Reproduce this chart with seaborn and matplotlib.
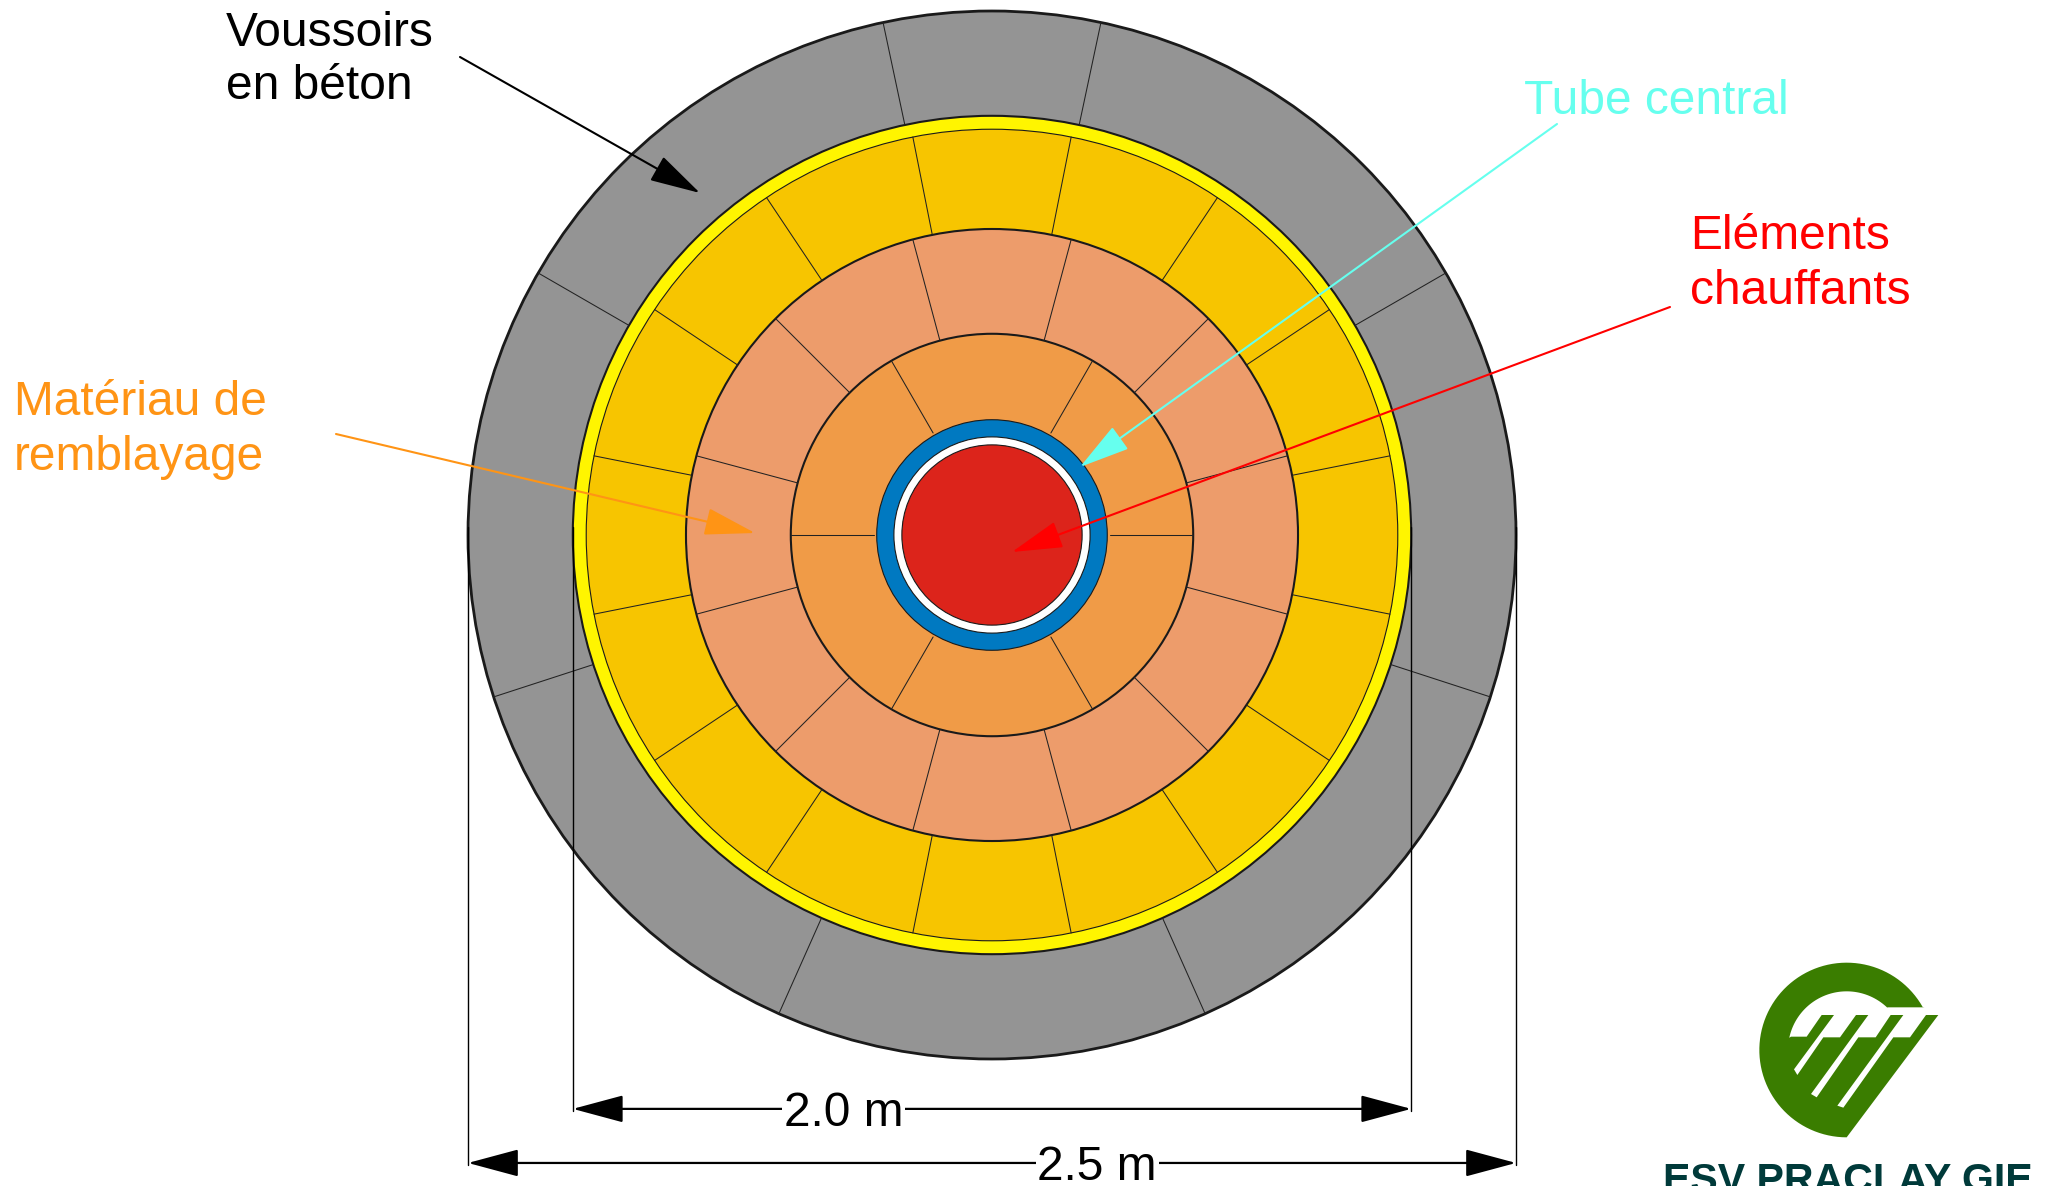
import numpy as np
import pandas as pd
import matplotlib
matplotlib.use("Agg")
import matplotlib.pyplot as plt
from matplotlib.patches import Circle, Polygon
import seaborn as sns

# radii in metres, outermost first
ring_radii = [1.25, 1.0, 0.968, 0.73, 0.48, 0.275, 0.234, 0.215]
ring_colors = ["#949494", "#FFF500", "#F7C500", "#ED9C6B", "#F09B47", "#0079C1", "#FFFFFF", "#DC241B"]
ring_lw = [2.0, 1.5, 0.8, 1.5, 1.5, 0.8, 0.8, 0.8]

# joints of each ring: inner radius, outer radius, angles in degrees
grey_joints = [30, 78, 102, 150, 198, 246, 294, 342]
gold_joints = [11.25, 33.75, 56.25, 78.75, 101.25, 123.75, 146.25, 168.75,
               191.25, 213.75, 236.25, 258.75, 281.25, 303.75, 326.25, 348.75]
salmon_joints = [15, 45, 75, 105, 135, 165, 195, 225, 255, 285, 315, 345]
orange_joints = [0, 60, 120, 180, 240, 300]
joint_sets = [(1.0, 1.25, grey_joints), (0.73, 0.968, gold_joints),
              (0.48, 0.73, salmon_joints), (0.281, 0.48, orange_joints)]

# dimension lines
dim_half_widths = [1.0, 1.25]
dim_bottoms = [-1.374, -1.503]
dim_labels = ["2.0 m", "2.5 m"]
dim_label_x = [-0.354, 0.251]

# labels: text, colour, left edge and baseline in pixels of the picture
label_texts = ["Voussoirs", "en béton", "Tube central", "Eléments", "chauffants", "Matériau de", "remblayage"]
label_colors = ["black", "black", "#66FFEE", "#FF0000", "#FF0000", "#FF9415", "#FF9415"]
label_x = [226, 226, 1524, 1690, 1690, 14, 14]
label_y = [46, 99, 114, 249, 304, 415, 470]

# pointers: start and tip in pixels of the picture
arrow_colors = ["black", "#66FFEE", "#FF0000", "#FF9415"]
arrow_start = [(460, 57), (1557, 124), (1670, 307), (336, 434)]
arrow_tip = [(700, 193), (1080, 467), (1012, 552), (755, 533)]

PX_PER_M = 419.2
CX, CY = 992, 535
W, H = 2056, 1186


def m(x, y):
    return (x - CX) / PX_PER_M, (CY - y) / PX_PER_M


def logo(x, y):
    return m(1650 + x / 3, 930 + y / 3)


def arc(radius, start, stop, n=80):
    t = np.radians(np.linspace(start, stop, n))
    return [(590 + radius * np.cos(a), 360 - radius * np.sin(a)) for a in t]


def segments(rows):
    df = pd.DataFrame(rows, columns=["seg", "x", "y"])
    return df


sns.set_theme(style="white")
plt.rcParams["font.family"] = ["Liberation Sans", "DejaVu Sans"]
palette = sns.color_palette(ring_colors)

fig = plt.figure(figsize=(W / 100, H / 100), dpi=100)
ax = fig.add_axes([0, 0, 1, 1])

for r, c, lw in zip(ring_radii, palette, ring_lw):
    ax.add_patch(Circle((0, 0), r, facecolor=c, edgecolor="#1a1a1a", lw=lw))

rows = []
n = 0
for r0, r1, angles in joint_sets:
    for a in angles:
        t = np.radians(a)
        rows.append((n, r0 * np.cos(t), r0 * np.sin(t)))
        rows.append((n, r1 * np.cos(t), r1 * np.sin(t)))
        n += 1
sns.lineplot(data=segments(rows), x="x", y="y", units="seg", estimator=None, sort=False,
             color="#222222", lw=0.75, legend=False, ax=ax)

# extension lines of the two dimensions
rows = []
n = 0
for w, b in zip(dim_half_widths, dim_bottoms):
    for side in (-1, 1):
        rows.append((n, side * w, 0.02))
        rows.append((n, side * w, b))
        n += 1
sns.lineplot(data=segments(rows), x="x", y="y", units="seg", estimator=None, sort=False,
             color="black", lw=1.0, legend=False, ax=ax)

head = "head_length=32,head_width=8.6"
for w, b, txt, tx in zip(dim_half_widths, dim_bottoms, dim_labels, dim_label_x):
    ya = b + 0.005
    ax.annotate("", xy=(w, ya), xytext=(-w, ya),
                arrowprops=dict(arrowstyle="<|-|>," + head, color="black", lw=1.6,
                                shrinkA=0, shrinkB=0, mutation_scale=1))
    ax.text(tx, ya - 0.012, txt, fontsize=34.5, ha="center", va="center", color="black",
            bbox=dict(facecolor="white", edgecolor="none", pad=1.5))

for col, s, e in zip(arrow_colors, arrow_start, arrow_tip):
    ax.annotate("", xy=m(*e), xytext=m(*s),
                arrowprops=dict(arrowstyle="-|>," + head, color=col, lw=1.5,
                                shrinkA=0, shrinkB=0, mutation_scale=1))

for txt, col, x, y in zip(label_texts, label_colors, label_x, label_y):
    px, py = m(x, y)
    ax.text(px, py, txt, color=col, fontsize=34.5, ha="left", va="baseline")

# logo
green = arc(262, 29.4, 270) + [(865, 255)]
ax.add_patch(Polygon([logo(*p) for p in green], closed=True, facecolor="#3A7D00", edgecolor="none"))
cut = [(423, 320), (470, 320), (515, 255), (552, 255), (432, 418), (442, 435),
       (520, 322), (570, 322), (618, 255), (655, 255), (483, 492), (500, 502),
       (625, 322), (677, 322), (722, 255), (760, 255), (562, 527), (580, 533),
       (730, 322), (780, 322), (828, 255), (875, 255), (875, 232), (712, 232)] + arc(176, 46, 168)
ax.add_patch(Polygon([logo(*p) for p in cut], closed=True, facecolor="white", edgecolor="none"))
lx, ly = m(1663, 1192)
ax.text(lx, ly, "ESV PRACLAY GIE", color="#003A3A", fontsize=29.6, fontweight="bold",
        ha="left", va="baseline")

ax.set_xlim(-CX / PX_PER_M, (W - CX) / PX_PER_M)
ax.set_ylim((CY - H) / PX_PER_M, CY / PX_PER_M)
ax.set_axis_off()

fig.savefig("out.png", dpi=100)
